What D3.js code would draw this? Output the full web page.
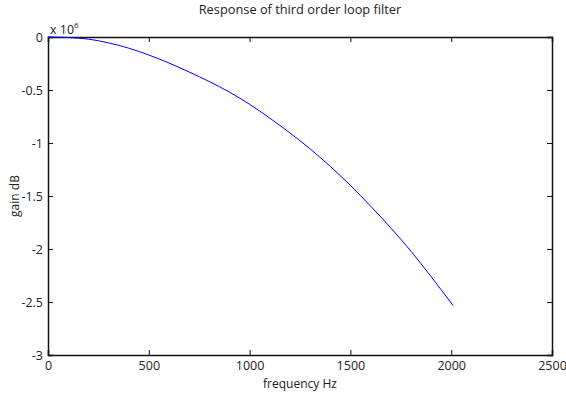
<!DOCTYPE html>
<html>
<head>
<meta charset="utf-8">
<script src="https://cdn.jsdelivr.net/npm/d3@7"></script>
<style>
  body { margin: 0; background: #fff; }
  text { font-family: "Open Sans", sans-serif; fill: #222; }
</style>
</head>
<body>
<figure id="loopfilter" style="margin:0"></figure>
<script>
// frequency (Hz) and gain (x 10^6 dB)
const freqs = [0, 100, 200, 300, 400, 500, 600, 700, 800, 900, 1000, 1100, 1200, 1300, 1400, 1500, 1600, 1700, 1800, 1900, 2000, 2010];
const gains = [0, -0.005, -0.02, -0.055, -0.105, -0.17, -0.245, -0.33, -0.42, -0.52, -0.635, -0.765, -0.905, -1.055, -1.22, -1.4, -1.595, -1.8, -2.02, -2.26, -2.51, -2.535];
const xTicks = [0, 500, 1000, 1500, 2000, 2500];
const yTicks = [0, -0.5, -1, -1.5, -2, -2.5, -3];

const W = 566, H = 394;
const m = { top: 37, right: 14, bottom: 39, left: 48 };
const w = W - m.left - m.right;
const h = H - m.top - m.bottom;

const svg = d3.select('figure#loopfilter')
  .append('svg')
  .attr('width', W)
  .attr('height', H);

const g = svg.append('g').attr('transform', 'translate(' + m.left + ',' + m.top + ')');

const x = d3.scaleLinear().domain([0, 2500]).range([0, w]);
const y = d3.scaleLinear().domain([-3, 0]).range([h, 0]);

// axes, ticks pointing in like matlab
const fmt = d => d3.format('')(d).replace('−', '-');
g.append('g')
  .attr('transform', 'translate(0,' + h + ')')
  .call(d3.axisBottom(x).tickValues(xTicks).tickSize(-5).tickPadding(6).tickFormat(fmt));
g.append('g')
  .call(d3.axisTop(x).tickValues(xTicks).tickSize(-5).tickFormat(''));
g.append('g')
  .call(d3.axisLeft(y).tickValues(yTicks).tickSize(-5).tickPadding(5).tickFormat(fmt));
g.append('g')
  .attr('transform', 'translate(' + w + ',0)')
  .call(d3.axisRight(y).tickValues(yTicks).tickSize(-5).tickFormat(''));

g.selectAll('.domain').attr('stroke', '#111').attr('stroke-width', 1.5);
g.selectAll('.tick line').attr('stroke', '#111');
g.selectAll('.tick text').attr('font-size', 12.5).attr('font-family', '"Open Sans", sans-serif').attr('fill', '#222');

// the curve
const line = d3.line().x((d, i) => x(freqs[i])).y(d => y(d)).curve(d3.curveMonotoneX);
g.append('path')
  .datum(gains)
  .attr('d', line)
  .attr('fill', 'none')
  .attr('stroke', '#0000ff')
  .attr('stroke-width', 1);

// exponent label
const ex = g.append('text').attr('x', 2).attr('y', -3).attr('font-size', 12.5);
ex.append('tspan').text('x 10');
ex.append('tspan').text('6').attr('font-size', 8).attr('dy', -6);

svg.append('text').text('Response of third order loop filter')
  .attr('x', m.left + w / 2).attr('y', 14)
  .attr('text-anchor', 'middle').attr('font-size', 12.8);

svg.append('text').text('frequency Hz')
  .attr('x', m.left + w / 2).attr('y', H - 6)
  .attr('text-anchor', 'middle').attr('font-size', 12);

svg.append('text').text('gain dB')
  .attr('transform', 'translate(19,' + (m.top + h / 2) + ') rotate(-90)')
  .attr('text-anchor', 'middle').attr('font-size', 12);
</script>
</body>
</html>
